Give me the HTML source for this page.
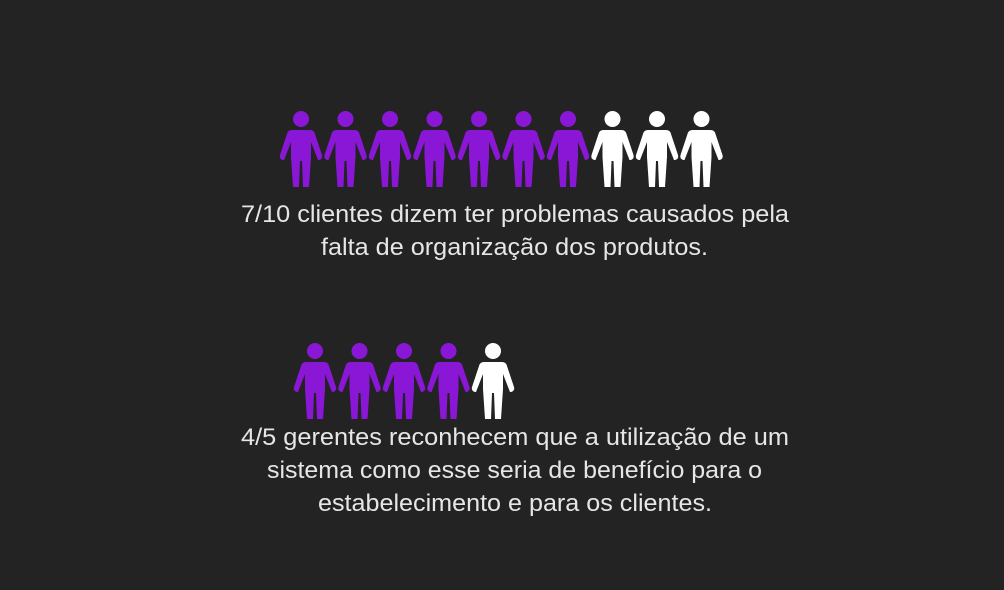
<!DOCTYPE html>
<html><head><meta charset="utf-8"><style>
html,body{margin:0;padding:0;background:#232323;}
svg{display:block;}
text{font-family:"Liberation Sans",sans-serif;font-size:24px;fill:#e6e6e6;}
</style></head><body>
<svg id="chart" width="1004" height="590" viewBox="0 0 1004 590" xmlns="http://www.w3.org/2000/svg">
<rect width="1004" height="590" fill="#232323"/>
<defs>
<g id="person">
<circle cx="21" cy="8" r="8"/>
<path d="M12,19 L30,19 Q34,19 35,23 L42,44 Q43,48 39,49 L38,49 L31,31 L31,46 L29,76 L23,76 L22,50 L20,50 L19,76 L13,76 L11,46 L11,31 L4,49 L3,49 Q-1,48 0,44 L7,23 Q8,19 12,19Z"/>
</g>
</defs>
<g id="row1"></g>
<g id="row2"></g>
<text x="241" y="222" textLength="548" lengthAdjust="spacingAndGlyphs">7/10 clientes dizem ter problemas causados pela</text>
<text x="321" y="255" textLength="387" lengthAdjust="spacingAndGlyphs">falta de organização dos produtos.</text>
<text x="241" y="445" textLength="548" lengthAdjust="spacingAndGlyphs">4/5 gerentes reconhecem que a utilização de um</text>
<text x="267" y="478" textLength="495" lengthAdjust="spacingAndGlyphs">sistema como esse seria de benefício para o</text>
<text x="318" y="511" textLength="394" lengthAdjust="spacingAndGlyphs">estabelecimento e para os clientes.</text>
</svg>
<script>
const highlighted = [7, 4];
const totals = [10, 5];
const rowIds = ['row1', 'row2'];
const rowX = [280, 294];
const rowY = [111, 343];
const step = 44.5;
const NS = 'http://www.w3.org/2000/svg';
for (let r = 0; r < totals.length; r++) {
  const g = document.getElementById(rowIds[r]);
  for (let i = 0; i < totals[r]; i++) {
    const u = document.createElementNS(NS, 'use');
    u.setAttribute('href', '#person');
    u.setAttribute('x', rowX[r] + i * step);
    u.setAttribute('y', rowY[r]);
    u.setAttribute('fill', i < highlighted[r] ? '#8a17d6' : '#ffffff');
    
    
    g.appendChild(u);
  }
}
</script>
</body></html>
